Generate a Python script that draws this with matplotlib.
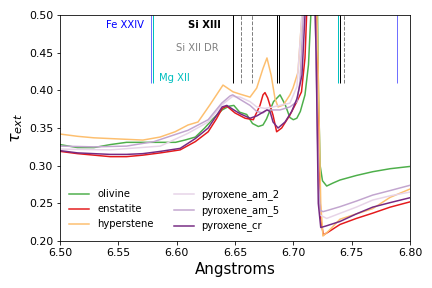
import numpy as np
import matplotlib
matplotlib.use("Agg")
import matplotlib.pyplot as plt

# olivine
wl_ol = [6.500, 6.515, 6.529, 6.543, 6.557, 6.571, 6.586, 6.599, 6.607, 6.616,
         6.624, 6.631, 6.639, 6.645, 6.649, 6.654, 6.660, 6.665, 6.670, 6.674,
         6.677, 6.683, 6.6886, 6.693, 6.697, 6.700, 6.703, 6.706, 6.710, 6.713,
         6.715, 6.717, 6.7185, 6.720, 6.7215, 6.723, 6.725, 6.7286, 6.734, 6.740,
         6.754, 6.768, 6.783, 6.800]
tau_ol = [0.328, 0.324, 0.324, 0.328, 0.331, 0.331, 0.331, 0.331, 0.334, 0.338,
          0.350, 0.362, 0.374, 0.379, 0.380, 0.371, 0.368, 0.356, 0.352, 0.354,
          0.362, 0.385, 0.394, 0.381, 0.364, 0.361, 0.363, 0.372, 0.394, 0.434,
          0.500, 0.580, 0.620, 0.600, 0.400, 0.300, 0.280, 0.273, 0.277, 0.281,
          0.287, 0.292, 0.296, 0.299]

# enstatite
wl_en = [6.500, 6.515, 6.529, 6.543, 6.557, 6.571, 6.586, 6.603, 6.616, 6.627,
         6.634, 6.639, 6.643, 6.650, 6.6586, 6.6657, 6.6714, 6.674, 6.6757, 6.678,
         6.6826, 6.6857, 6.690, 6.697, 6.703, 6.707, 6.710, 6.7114, 6.714, 6.718,
         6.7205, 6.722, 6.7235, 6.7257, 6.730, 6.740, 6.754, 6.768, 6.783, 6.800]
tau_en = [0.319, 0.316, 0.314, 0.312, 0.312, 0.314, 0.317, 0.321, 0.332, 0.345,
          0.362, 0.376, 0.379, 0.370, 0.363, 0.361, 0.380, 0.394, 0.397, 0.390,
          0.367, 0.345, 0.350, 0.367, 0.385, 0.398, 0.443, 0.500, 0.580, 0.600,
          0.450, 0.300, 0.230, 0.208, 0.212, 0.222, 0.230, 0.237, 0.245, 0.252]

# hyperstene
wl_hy = [6.500, 6.515, 6.529, 6.543, 6.557, 6.571, 6.5857, 6.5986, 6.6097, 6.6183,
         6.6286, 6.6397, 6.6483, 6.6543, 6.6629, 6.6686, 6.674, 6.6774, 6.681, 6.6843,
         6.6869, 6.6914, 6.6971, 6.6997, 6.704, 6.7074, 6.712, 6.718, 6.721, 6.7235,
         6.7254, 6.730, 6.740, 6.754, 6.768, 6.783, 6.800]
tau_hy = [0.342, 0.339, 0.337, 0.336, 0.335, 0.334, 0.338, 0.345, 0.354, 0.358,
          0.381, 0.407, 0.398, 0.395, 0.391, 0.403, 0.429, 0.443, 0.420, 0.389,
          0.378, 0.3805, 0.394, 0.403, 0.424, 0.500, 0.600, 0.650, 0.450, 0.250,
          0.2067, 0.213, 0.229, 0.236, 0.243, 0.258, 0.269]

# pyroxene_am_2
wl_a2 = [6.500, 6.543, 6.586, 6.6097, 6.627, 6.6386, 6.648, 6.6543, 6.6629, 6.6686,
         6.6757, 6.6826, 6.6971, 6.7031, 6.7074, 6.712, 6.717, 6.7195, 6.7215, 6.7229,
         6.7286, 6.740, 6.754, 6.768, 6.783, 6.800]
tau_a2 = [0.322, 0.321, 0.326, 0.343, 0.358, 0.3805, 0.392, 0.391, 0.385, 0.378,
          0.376, 0.378, 0.383, 0.405, 0.500, 0.600, 0.620, 0.450, 0.270, 0.2345,
          0.230, 0.2368, 0.245, 0.2544, 0.260, 0.265]

# pyroxene_am_5
wl_a5 = [6.500, 6.529, 6.557, 6.5806, 6.6097, 6.627, 6.6386, 6.6457, 6.648, 6.6543,
         6.6629, 6.6686, 6.674, 6.6774, 6.6886, 6.6971, 6.7031, 6.7057, 6.7086, 6.713,
         6.717, 6.7195, 6.7215, 6.7229, 6.7254, 6.730, 6.740, 6.754, 6.768, 6.783,
         6.800]
tau_a5 = [0.326, 0.325, 0.326, 0.332, 0.347, 0.361, 0.383, 0.3925, 0.394, 0.388,
          0.380, 0.372, 0.370, 0.374, 0.374, 0.378, 0.385, 0.4115, 0.500, 0.600,
          0.620, 0.450, 0.280, 0.241, 0.239, 0.241, 0.2456, 0.253, 0.261, 0.267,
          0.274]

# pyroxene_cr
wl_cr = [6.500, 6.515, 6.529, 6.543, 6.557, 6.571, 6.586, 6.603, 6.616, 6.627,
         6.639, 6.643, 6.649, 6.6543, 6.6629, 6.6686, 6.674, 6.6774, 6.680, 6.6826,
         6.6869, 6.6929, 6.6986, 6.7031, 6.7074, 6.710, 6.713, 6.717, 6.7195, 6.7214,
         6.7235, 6.728, 6.740, 6.754, 6.768, 6.783, 6.800]
tau_cr = [0.320, 0.317, 0.316, 0.315, 0.315, 0.316, 0.319, 0.323, 0.336, 0.350,
          0.378, 0.380, 0.374, 0.369, 0.363, 0.366, 0.371, 0.374, 0.372, 0.358,
          0.350, 0.358, 0.372, 0.389, 0.420, 0.500, 0.580, 0.620, 0.450, 0.250,
          0.218, 0.220, 0.226, 0.236, 0.245, 0.251, 0.2575]

names = ["olivine", "enstatite", "hyperstene", "pyroxene_am_2", "pyroxene_am_5", "pyroxene_cr"]
colors = ["#4daf4a", "#e41a1c", "#fdbf6f", "#e7d4e8", "#c2a5cf", "#762a83"]

# line markers
fe24_lines = [6.5777, 6.789]
mg12_lines = [6.5794, 6.7386]
si13_lines = [6.6486, 6.6857, 6.688, 6.740]
si12dr_lines = [6.6554, 6.6643, 6.7437]

fig = plt.figure(figsize=(6, 4), dpi=72)
ax = fig.add_axes([0.139, 0.163, 0.810, 0.785])

series = [(wl_ol, tau_ol), (wl_en, tau_en), (wl_hy, tau_hy),
          (wl_a2, tau_a2), (wl_a5, tau_a5), (wl_cr, tau_cr)]
for (wl, tau), name, col in zip(series, names, colors):
    ax.plot(wl, tau, color=col, lw=1.5, label=name)

ax.vlines(fe24_lines, 0.41, 0.5, color="#7070ff", lw=1)
ax.vlines(mg12_lines, 0.41, 0.5, color="c", lw=1)
ax.vlines(si13_lines, 0.41, 0.5, color="k", lw=1)
ax.vlines(si12dr_lines, 0.41, 0.5, color="gray", lw=1, linestyles="dashed")

ax.text(6.5394, 0.4867, "Fe XXIV", color="b", fontsize=10, va="center")
ax.text(6.6097, 0.4867, "Si XIII", color="k", fontsize=10, va="center", weight="bold")
ax.text(6.5994, 0.456, "Si XII DR", color="gray", fontsize=10, va="center")
ax.text(6.5849, 0.4164, "Mg XII", color="c", fontsize=10, va="center")

ax.set_xlim(6.5, 6.8)
ax.set_ylim(0.2, 0.5)
ax.set_xticks(np.arange(6.50, 6.801, 0.05))
ax.set_xticklabels(["6.50", "6.55", "6.60", "6.65", "6.70", "6.75", "6.80"])
ax.set_yticks(np.arange(0.20, 0.501, 0.05))
ax.set_yticklabels(["0.20", "0.25", "0.30", "0.35", "0.40", "0.45", "0.50"])
ax.tick_params(labelsize=11)
ax.set_xlabel("Angstroms", fontsize=15)
ax.set_ylabel(r"$\tau_{ext}$", fontsize=16)
ax.legend(ncol=2, frameon=False, loc="lower left", fontsize=10)

fig.savefig("out.png", dpi=72)
